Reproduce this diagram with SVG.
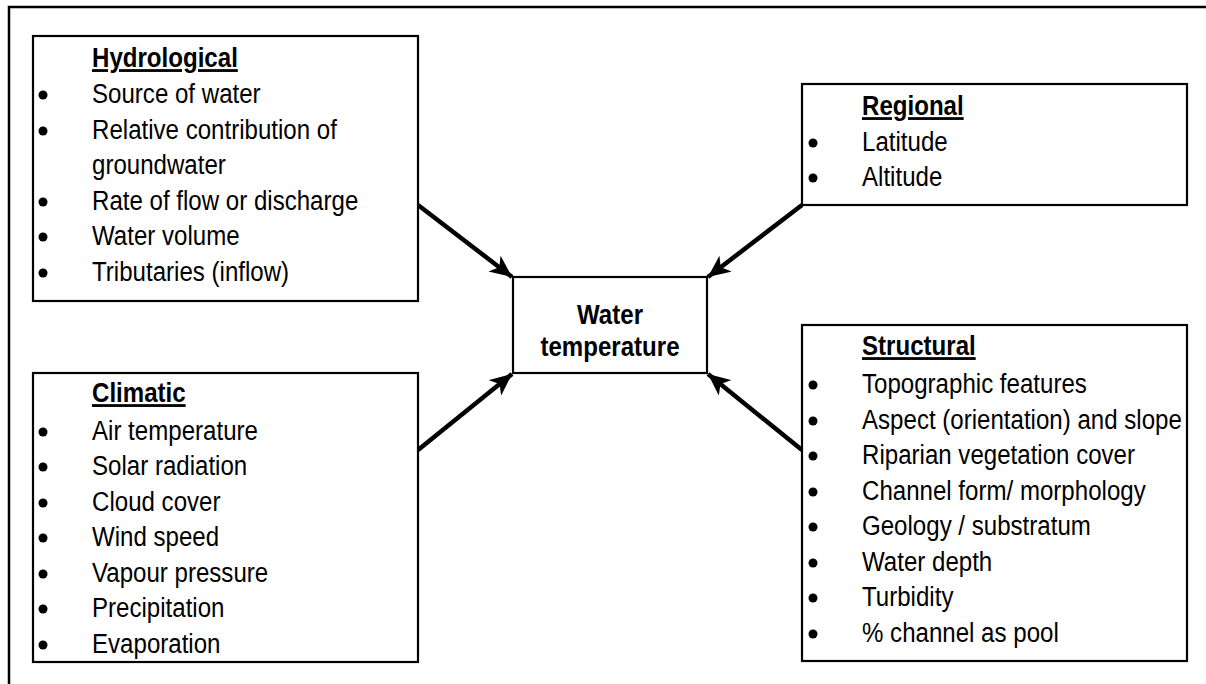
<svg xmlns="http://www.w3.org/2000/svg" width="1206" height="684" viewBox="0 0 1206 684">
<style>
.box{fill:#fff;stroke:#000;stroke-width:2.2}
.t{font-family:"Liberation Sans",Arial,sans-serif;font-size:28px;fill:#000}
.h{font-weight:bold;text-decoration:underline}
.c{font-weight:bold;text-anchor:middle}
.b{fill:#000}
.arr{stroke:#000;stroke-width:4.5;fill:none;marker-end:url(#ah)}
</style>
<defs>
<marker id="ah" markerUnits="userSpaceOnUse" markerWidth="24" markerHeight="20" refX="22" refY="10" orient="auto">
<path d="M0,0 L22,10 L0,20 L6,10 Z" fill="#000"/>
</marker>
</defs>
<rect width="1206" height="684" fill="#fff"/>
<path d="M9,684 V7 H1206" fill="none" stroke="#000" stroke-width="2.5"/>
<g id="connectors">
<line class="arr" x1="418" y1="205" x2="512" y2="277"/>
<line class="arr" x1="802" y1="205" x2="708" y2="277"/>
<line class="arr" x1="418" y1="450" x2="512" y2="374"/>
<line class="arr" x1="802" y1="450" x2="708" y2="374"/>
</g>
<g id="hydrological">
<rect class="box" x="33" y="36" width="385" height="265"/>
<text class="t h" transform="translate(92,67) scale(0.86,1)">Hydrological</text>
<circle class="b" cx="43" cy="95" r="4.5"/><text class="t" transform="translate(92,103) scale(0.86,1)">Source of water</text>
<circle class="b" cx="43" cy="131" r="4.5"/><text class="t" transform="translate(92,139) scale(0.86,1)">Relative contribution of</text>
<text class="t" transform="translate(92,174) scale(0.86,1)">groundwater</text>
<circle class="b" cx="43" cy="202" r="4.5"/><text class="t" transform="translate(92,210) scale(0.86,1)">Rate of flow or discharge</text>
<circle class="b" cx="43" cy="237" r="4.5"/><text class="t" transform="translate(92,245) scale(0.86,1)">Water volume</text>
<circle class="b" cx="43" cy="273" r="4.5"/><text class="t" transform="translate(92,281) scale(0.86,1)">Tributaries (inflow)</text>
</g>
<g id="regional">
<rect class="box" x="802" y="84" width="385" height="121"/>
<text class="t h" transform="translate(862,115) scale(0.86,1)">Regional</text>
<circle class="b" cx="813" cy="143" r="4.5"/><text class="t" transform="translate(862,151) scale(0.86,1)">Latitude</text>
<circle class="b" cx="813" cy="178" r="4.5"/><text class="t" transform="translate(862,186) scale(0.86,1)">Altitude</text>
</g>
<g id="water-temperature">
<rect class="box" x="513" y="277" width="194" height="96"/>
<text class="t c" transform="translate(610,324) scale(0.86,1)">Water</text>
<text class="t c" transform="translate(610,356) scale(0.86,1)">temperature</text>
</g>
<g id="climatic">
<rect class="box" x="33" y="373" width="385" height="289"/>
<text class="t h" transform="translate(92,402) scale(0.86,1)">Climatic</text>
<circle class="b" cx="43" cy="432" r="4.5"/><text class="t" transform="translate(92,440) scale(0.86,1)">Air temperature</text>
<circle class="b" cx="43" cy="467" r="4.5"/><text class="t" transform="translate(92,475) scale(0.86,1)">Solar radiation</text>
<circle class="b" cx="43" cy="503" r="4.5"/><text class="t" transform="translate(92,511) scale(0.86,1)">Cloud cover</text>
<circle class="b" cx="43" cy="538" r="4.5"/><text class="t" transform="translate(92,546) scale(0.86,1)">Wind speed</text>
<circle class="b" cx="43" cy="574" r="4.5"/><text class="t" transform="translate(92,582) scale(0.86,1)">Vapour pressure</text>
<circle class="b" cx="43" cy="609" r="4.5"/><text class="t" transform="translate(92,617) scale(0.86,1)">Precipitation</text>
<circle class="b" cx="43" cy="645" r="4.5"/><text class="t" transform="translate(92,653) scale(0.86,1)">Evaporation</text>
</g>
<g id="structural">
<rect class="box" x="802" y="325" width="385" height="336"/>
<text class="t h" transform="translate(862,355) scale(0.86,1)">Structural</text>
<circle class="b" cx="813" cy="385" r="4.5"/><text class="t" transform="translate(862,393) scale(0.86,1)">Topographic features</text>
<circle class="b" cx="813" cy="421" r="4.5"/><text class="t" transform="translate(862,429) scale(0.86,1)">Aspect (orientation) and slope</text>
<circle class="b" cx="813" cy="456" r="4.5"/><text class="t" transform="translate(862,464) scale(0.86,1)">Riparian vegetation cover</text>
<circle class="b" cx="813" cy="492" r="4.5"/><text class="t" transform="translate(862,500) scale(0.86,1)">Channel form/ morphology</text>
<circle class="b" cx="813" cy="527" r="4.5"/><text class="t" transform="translate(862,535) scale(0.86,1)">Geology / substratum</text>
<circle class="b" cx="813" cy="563" r="4.5"/><text class="t" transform="translate(862,571) scale(0.86,1)">Water depth</text>
<circle class="b" cx="813" cy="598" r="4.5"/><text class="t" transform="translate(862,606) scale(0.86,1)">Turbidity</text>
<circle class="b" cx="813" cy="634" r="4.5"/><text class="t" transform="translate(862,642) scale(0.86,1)">% channel as pool</text>
</g>
</svg>
